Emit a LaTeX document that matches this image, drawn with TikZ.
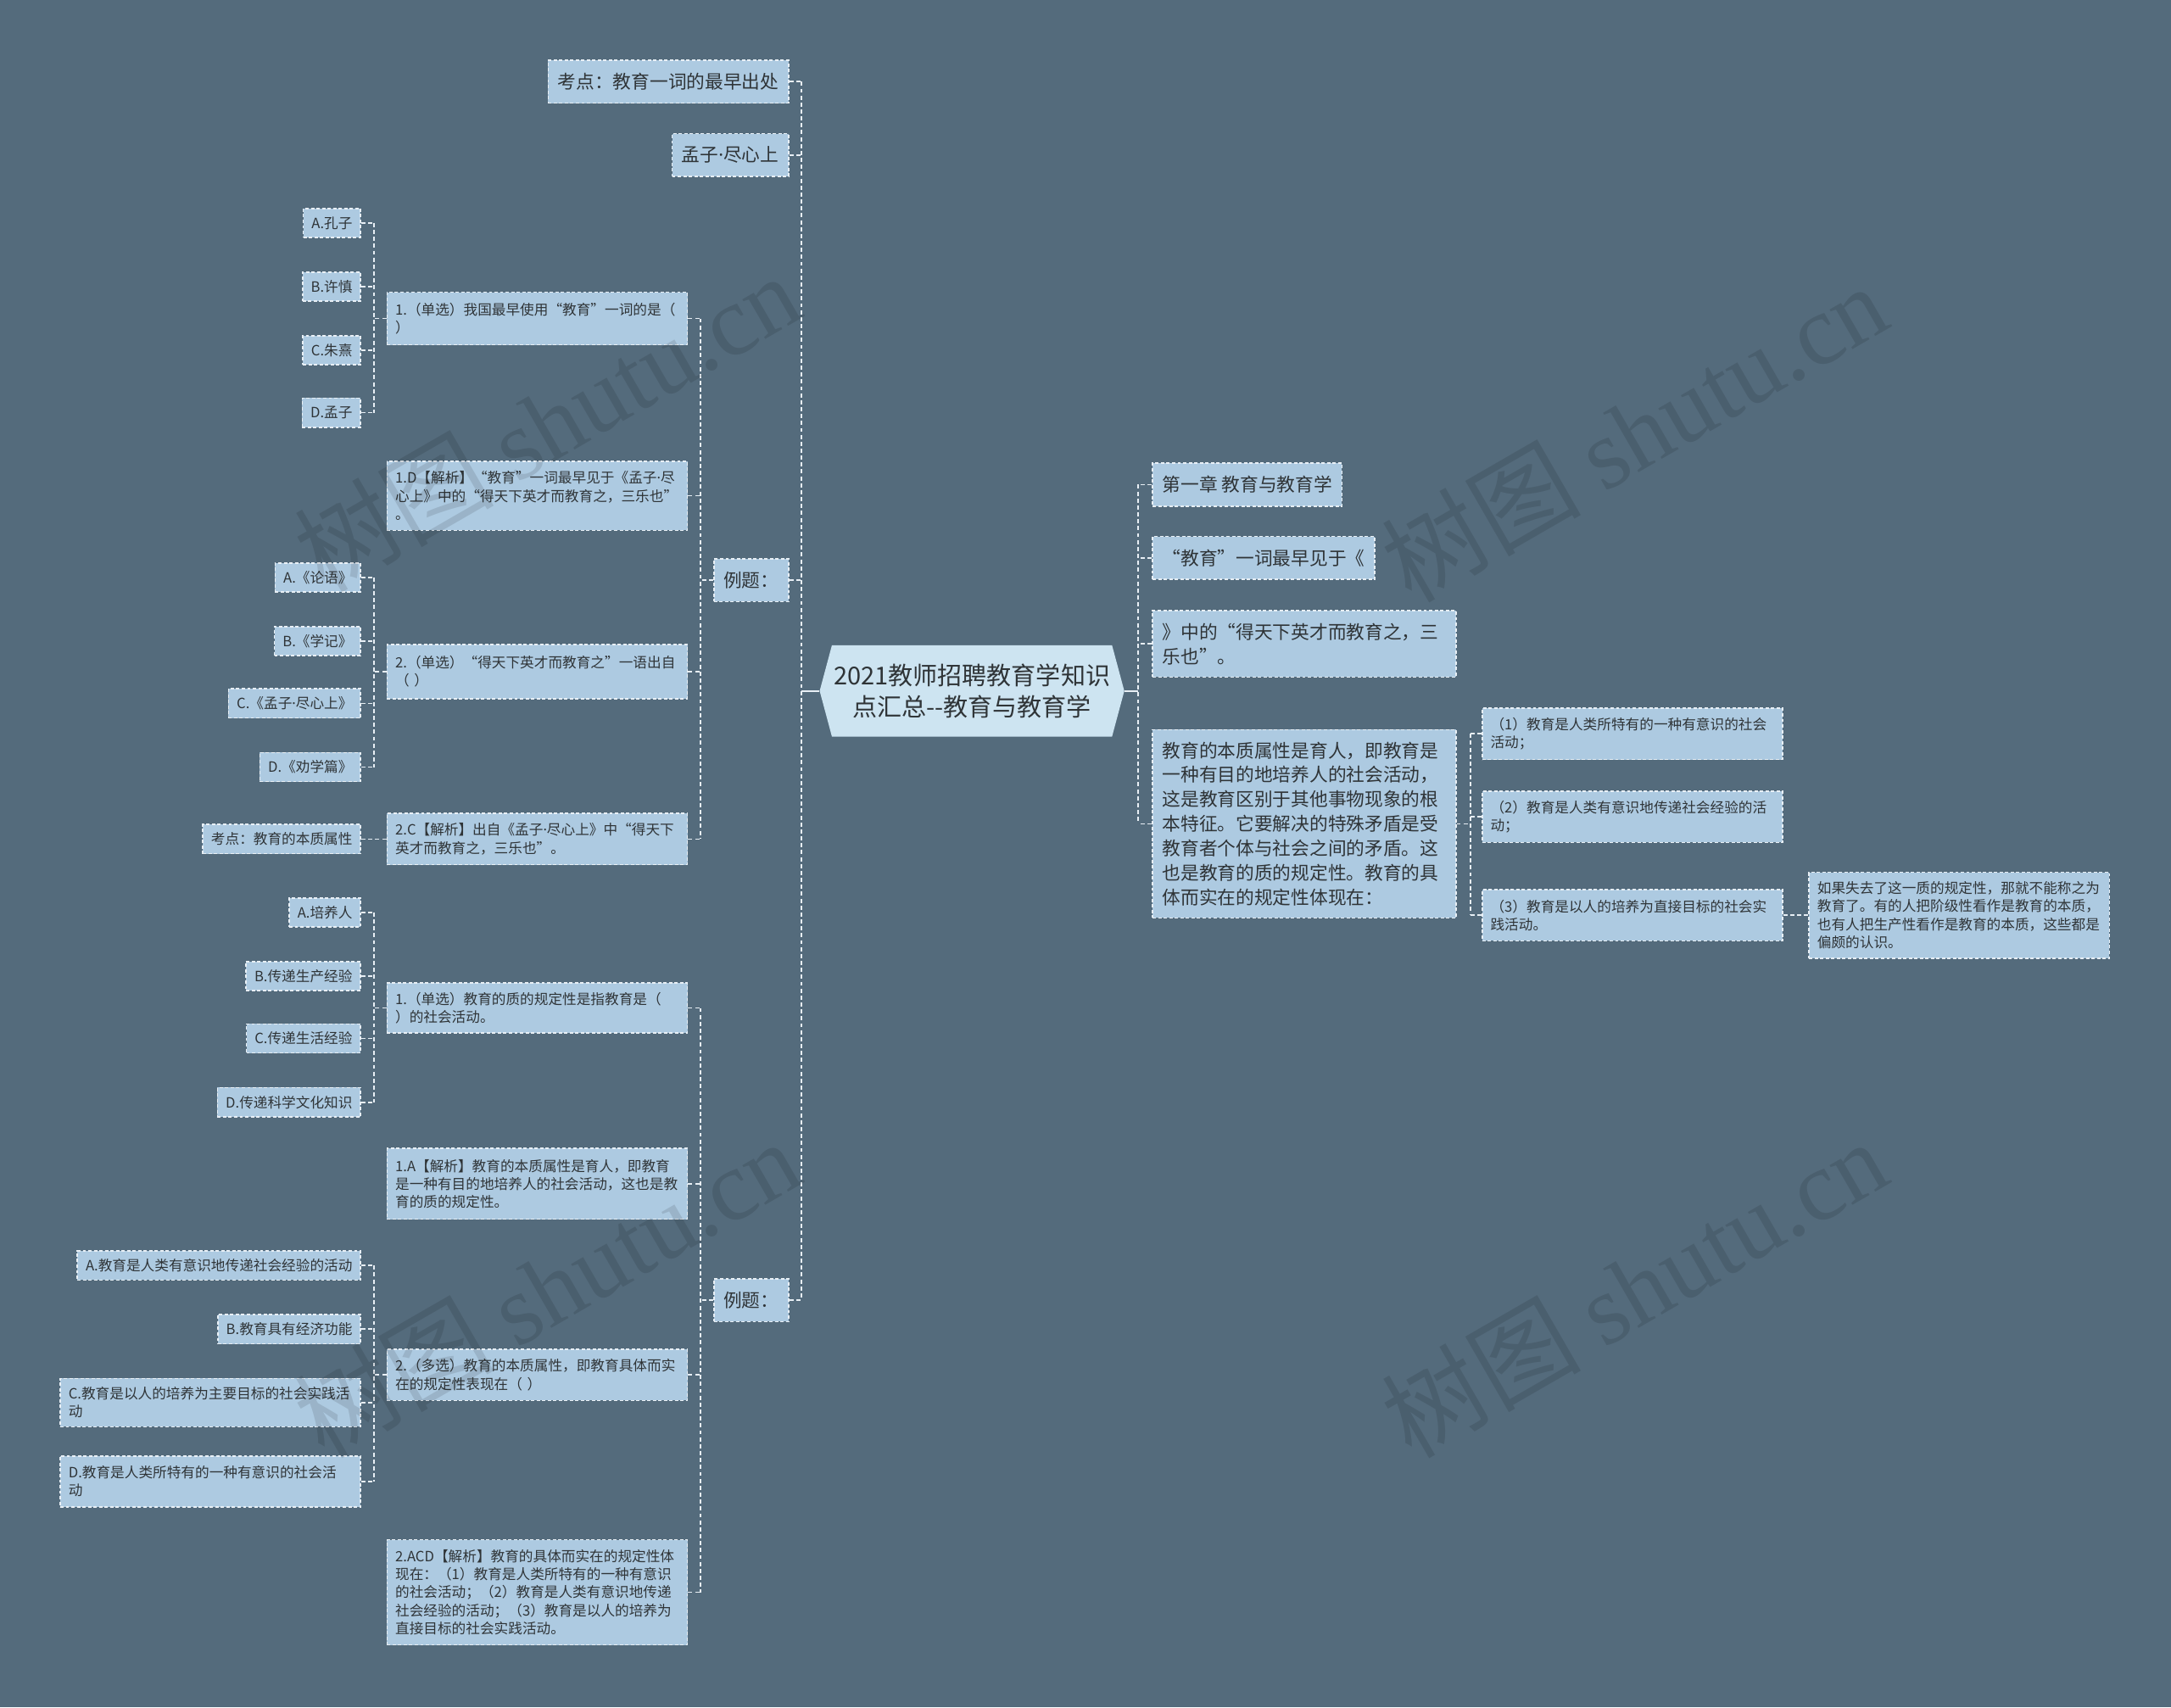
\documentclass[tikz,border=0pt]{standalone}
\usepackage{fontspec}
\setmainfont{Noto Sans CJK SC}
\newfontfamily\wmlatin{Liberation Serif}
\newfontfamily\latinsans{Noto Sans}
\newcommand\mdot{{\latinsans ·}}
\usetikzlibrary{shapes.symbols,calc}
\definecolor{bgc}{HTML}{546B7C}
\definecolor{boxc}{HTML}{ADCAE1}
\definecolor{rootc}{HTML}{CDE4F1}
\definecolor{txtc}{HTML}{2F3437}
\definecolor{linec}{HTML}{E8EFF5}
\begin{document}
\begin{tikzpicture}[x=0.5pt,y=-0.5pt,
  box/.style={draw=linec, dash pattern=on 1.2pt off 0.8pt, line width=0.5pt, fill=boxc, text=txtc, inner xsep=3pt, inner ysep=1pt},
  lvone/.style={box, font=\fontsize{6.65}{8.85}\selectfont, inner xsep=3.5pt, minimum height=15.5pt},
  lvwide/.style={lvone, text width=102.5pt, align=left},
  optbox/.style={box, font=\fontsize{5.1}{6.5}\selectfont, minimum height=10.5pt},
  ansbox/.style={optbox, text width=102.5pt, align=left},
  conn/.style={draw=linec, line width=0.55pt, dash pattern=on 1.5pt off 1pt},
  rootline/.style={draw=linec, line width=0.7pt},
  wm/.style={rotate=30, text=black, text opacity=0.11, font=\fontsize{36}{40}\selectfont}
]
\fill[bgc] (0,0) rectangle (1568,1233);
\useasboundingbox (0,0) rectangle (1568,1233);

% root
\node[signal, signal to=west and east, signal pointer angle=150, fill=rootc, text=txtc,
  minimum width=110pt, minimum height=33pt, inner sep=0pt, align=center,
  font=\fontsize{8.9}{11.5}\selectfont] (root) at (702,499) {2021教师招聘教育学知识\\点汇总-{}-教育与教育学};

% left level 1
\node[lvone, anchor=east] (k1) at (570,59) {考点：教育一词的最早出处};
\node[lvone, anchor=east] (k2) at (570,112) {孟子\mdot 尽心上};
\node[lvone, anchor=east] (e1) at (570,419) {例题：};
\node[lvone, anchor=east] (e2) at (570,939) {例题：};

% e1 children
\node[ansbox, anchor=east, minimum height=19pt] (q1) at (497,230) {1.（单选）我国最早使用“教育”一词的是（\\）};
\node[ansbox, anchor=east, minimum height=25pt] (a1) at (497,358) {1.D【解析】“教育”一词最早见于《孟子\mdot 尽\\心上》中的“得天下英才而教育之，三乐也”\\。};
\node[ansbox, anchor=east, minimum height=19.5pt] (q2) at (497,485) {2.（单选）“得天下英才而教育之”一语出自\\（ ）};
\node[ansbox, anchor=east, minimum height=18.5pt] (a2) at (497,606) {2.C【解析】出自《孟子\mdot 尽心上》中“得天下\\英才而教育之，三乐也”。};

% q1 options
\node[optbox, anchor=east] (o1a) at (261,161) {A.孔子};
\node[optbox, anchor=east] (o1b) at (261,207) {B.许慎};
\node[optbox, anchor=east] (o1c) at (261,253) {C.朱熹};
\node[optbox, anchor=east] (o1d) at (261,298) {D.孟子};
% q2 options
\node[optbox, anchor=east] (o2a) at (261,417) {A.《论语》};
\node[optbox, anchor=east] (o2b) at (261,463) {B.《学记》};
\node[optbox, anchor=east] (o2c) at (261,508) {C.《孟子\mdot 尽心上》};
\node[optbox, anchor=east] (o2d) at (261,554) {D.《劝学篇》};
% a2 child
\node[optbox, anchor=east] (kd) at (261,606) {考点：教育的本质属性};

% e2 children
\node[ansbox, anchor=east, minimum height=18pt] (q3) at (497,728) {1.（单选）教育的质的规定性是指教育是（\\）的社会活动。};
\node[ansbox, anchor=east, minimum height=25.5pt] (a3) at (497,855) {1.A【解析】教育的本质属性是育人，即教育\\是一种有目的地培养人的社会活动，这也是教\\育的质的规定性。};
\node[ansbox, anchor=east, minimum height=18.5pt] (q4) at (497,993) {2.（多选）教育的本质属性，即教育具体而实\\在的规定性表现在（ ）};
\node[ansbox, anchor=east, minimum height=38pt] (a4) at (497,1150) {2.ACD【解析】教育的具体而实在的规定性体\\现在：（1）教育是人类所特有的一种有意识\\的社会活动；（2）教育是人类有意识地传递\\社会经验的活动；（3）教育是以人的培养为\\直接目标的社会实践活动。};

% q3 options
\node[optbox, anchor=east] (o3a) at (261,659) {A.培养人};
\node[optbox, anchor=east] (o3b) at (261,705) {B.传递生产经验};
\node[optbox, anchor=east] (o3c) at (261,750) {C.传递生活经验};
\node[optbox, anchor=east] (o3d) at (261,796) {D.传递科学文化知识};
% q4 options
\node[optbox, anchor=east] (o4a) at (261,914) {A.教育是人类有意识地传递社会经验的活动};
\node[optbox, anchor=east] (o4b) at (261,960) {B.教育具有经济功能};
\node[ansbox, anchor=east, minimum height=17.5pt] (o4c) at (261,1013) {C.教育是以人的培养为主要目标的社会实践活\\动};
\node[ansbox, anchor=east, minimum height=18.5pt] (o4d) at (261,1070) {D.教育是人类所特有的一种有意识的社会活\\动};

% right side
\node[lvone, anchor=west] (r1) at (832,350) {第一章 教育与教育学};
\node[lvone, anchor=west] (r2) at (832,403) {“教育”一词最早见于《};
\node[lvwide, anchor=west, minimum height=24pt] (r3) at (832,465) {》中的“得天下英才而教育之，三\\乐也”。};
\node[lvwide, anchor=west, minimum height=68pt] (r4) at (832,595) {教育的本质属性是育人，即教育是\\一种有目的地培养人的社会活动，\\这是教育区别于其他事物现象的根\\本特征。它要解决的特殊矛盾是受\\教育者个体与社会之间的矛盾。这\\也是教育的质的规定性。教育的具\\体而实在的规定性体现在：};
\node[ansbox, anchor=west, minimum height=18.5pt] (s1) at (1070,530) {（1）教育是人类所特有的一种有意识的社会\\活动；};
\node[ansbox, anchor=west, minimum height=18.5pt] (s2) at (1070,590) {（2）教育是人类有意识地传递社会经验的活\\动；};
\node[ansbox, anchor=west, minimum height=18.5pt] (s3) at (1070,661) {（3）教育是以人的培养为直接目标的社会实\\践活动。};
\node[ansbox, anchor=west, minimum height=31pt] (t1) at (1306,661) {如果失去了这一质的规定性，那就不能称之为\\教育了。有的人把阶级性看作是教育的本质，\\也有人把生产性看作是教育的本质，这些都是\\偏颇的认识。};

% bus coordinates
\coordinate (bL) at (579,0);
\coordinate (bM) at (506,0);
\coordinate (bO) at (270,0);
\coordinate (bR) at (822,0);
\coordinate (bS) at (1062,0);

% root to left
\draw[rootline] (root.west) -- (root.west -| bL);
\draw[conn] (k1.east -| bL) -- (e2.east -| bL);
\foreach \c in {k1,k2,e1,e2} \draw[conn] (\c.east) -- (\c.east -| bL);

% e1 group
\draw[conn] (e1.west) -- (e1.west -| bM);
\draw[conn] (q1.east -| bM) -- (a2.east -| bM);
\foreach \c in {q1,a1,q2,a2} \draw[conn] (\c.east) -- (\c.east -| bM);

% q1 group
\draw[conn] (q1.west) -- (q1.west -| bO);
\draw[conn] (o1a.east -| bO) -- (o1d.east -| bO);
\foreach \c in {o1a,o1b,o1c,o1d} \draw[conn] (\c.east) -- (\c.east -| bO);

% q2 group
\draw[conn] (q2.west) -- (q2.west -| bO);
\draw[conn] (o2a.east -| bO) -- (o2d.east -| bO);
\foreach \c in {o2a,o2b,o2c,o2d} \draw[conn] (\c.east) -- (\c.east -| bO);

% a2 to kd
\draw[conn] (a2.west) -- (kd.east);

% e2 group
\draw[conn] (e2.west) -- (e2.west -| bM);
\draw[conn] (q3.east -| bM) -- (a4.east -| bM);
\foreach \c in {q3,a3,q4,a4} \draw[conn] (\c.east) -- (\c.east -| bM);

% q3 group
\draw[conn] (q3.west) -- (q3.west -| bO);
\draw[conn] (o3a.east -| bO) -- (o3d.east -| bO);
\foreach \c in {o3a,o3b,o3c,o3d} \draw[conn] (\c.east) -- (\c.east -| bO);

% q4 group
\draw[conn] (q4.west) -- (q4.west -| bO);
\draw[conn] (o4a.east -| bO) -- (o4d.east -| bO);
\foreach \c in {o4a,o4b,o4c,o4d} \draw[conn] (\c.east) -- (\c.east -| bO);

% right
\draw[rootline] (root.east) -- (root.east -| bR);
\draw[conn] (r1.west -| bR) -- (r4.west -| bR);
\foreach \c in {r1,r2,r3,r4} \draw[conn] (\c.west) -- (\c.west -| bR);

\draw[conn] (r4.east) -- (r4.east -| bS);
\draw[conn] (s1.west -| bS) -- (s3.west -| bS);
\foreach \c in {s1,s2,s3} \draw[conn] (\c.west) -- (\c.west -| bS);

\draw[conn] (s3.east) -- (t1.west);

% watermarks
\node[wm] (wm1) at (395,305) {树图 {\wmlatin shutu.cn}};
\node[wm] (wm2) at (1180,312) {树图 {\wmlatin shutu.cn}};
\node[wm] (wm3) at (395,930) {树图 {\wmlatin shutu.cn}};
\node[wm] (wm4) at (1180,930) {树图 {\wmlatin shutu.cn}};
\end{tikzpicture}
\end{document}
